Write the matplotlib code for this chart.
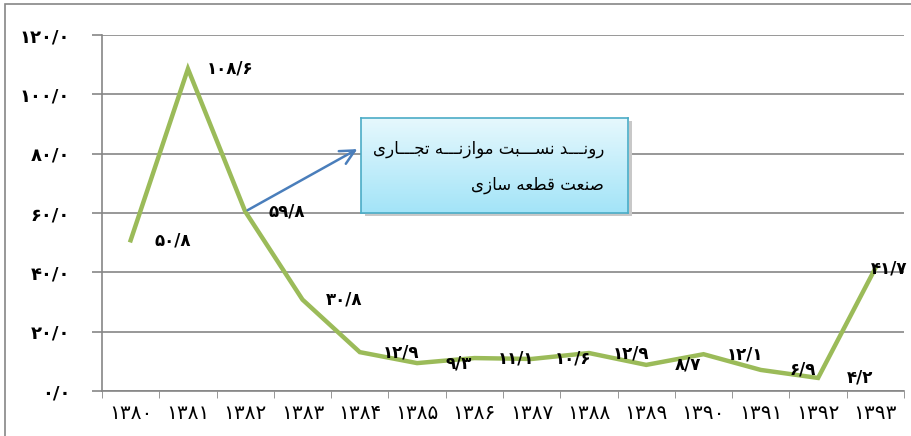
import matplotlib.pyplot as plt
import matplotlib.patches as mpatches
import numpy as np

plt.rcParams['font.family'] = ['DejaVu Sans']

years = ['1380', '1381', '1382', '1383', '1384', '1385', '1386',
         '1387', '1388', '1389', '1390', '1391', '1392', '1393']
# plotted values (line)
values = [50.8, 108.6, 60.5, 30.8, 13.1, 9.4, 11.1, 10.8, 12.8, 8.8, 12.4, 7.1, 4.4, 41.4]
# printed data labels
label_values = [50.8, 108.6, 59.8, 30.8, 12.9, 9.3, 11.1, 10.6, 12.9, 8.7, 12.1, 6.9, 4.2, 41.7]
y_ticks = [0, 20, 40, 60, 80, 100, 120]
box_lines = ['رونـــد نســـبت موازنـــه تجـــاری', 'صنعت قطعه سازی']

PERSIAN_DIGITS = str.maketrans('0123456789.', '۰۱۲۳۴۵۶۷۸۹/')

# isolated, final, initial, medial
FORMS = {
    'ا': ('\uFE8D', '\uFE8E', None, None),
    'ب': ('\uFE8F', '\uFE90', '\uFE91', '\uFE92'),
    'ت': ('\uFE95', '\uFE96', '\uFE97', '\uFE98'),
    'ج': ('\uFE9D', '\uFE9E', '\uFE9F', '\uFEA0'),
    'د': ('\uFEA9', '\uFEAA', None, None),
    'ر': ('\uFEAD', '\uFEAE', None, None),
    'ز': ('\uFEAF', '\uFEB0', None, None),
    'س': ('\uFEB1', '\uFEB2', '\uFEB3', '\uFEB4'),
    'ص': ('\uFEB9', '\uFEBA', '\uFEBB', '\uFEBC'),
    'ط': ('\uFEC1', '\uFEC2', '\uFEC3', '\uFEC4'),
    'ع': ('\uFEC9', '\uFECA', '\uFECB', '\uFECC'),
    'ق': ('\uFED5', '\uFED6', '\uFED7', '\uFED8'),
    'م': ('\uFEE1', '\uFEE2', '\uFEE3', '\uFEE4'),
    'ن': ('\uFEE5', '\uFEE6', '\uFEE7', '\uFEE8'),
    'ه': ('\uFEE9', '\uFEEA', '\uFEEB', '\uFEEC'),
    'و': ('\uFEED', '\uFEEE', None, None),
    'ی': ('\uFEEF', '\uFEF0', '\uFEF3', '\uFEF4'),
}
TATWEEL = 'ـ'


def _dual(ch):
    return ch == TATWEEL or (ch in FORMS and FORMS[ch][2] is not None)


def _joins(ch):
    return ch == TATWEEL or ch in FORMS


def shape(text):
    # matplotlib has no arabic shaping: pick presentation forms, then reverse
    out = []
    for i, ch in enumerate(text):
        if ch not in FORMS:
            out.append(ch)
            continue
        prev = text[i - 1] if i > 0 else ''
        nxt = text[i + 1] if i + 1 < len(text) else ''
        jp = prev != '' and _dual(prev)
        jn = nxt != '' and _joins(nxt) and _dual(ch)
        iso, fin, ini, med = FORMS[ch]
        if jp and jn:
            out.append(med)
        elif jp:
            out.append(fin)
        elif jn:
            out.append(ini)
        else:
            out.append(iso)
    return ''.join(out)[::-1]


def fa(num, fmt):
    return (fmt % num).translate(PERSIAN_DIGITS)


fig = plt.figure(figsize=(9.12, 4.36), dpi=100)
fig.patches.append(mpatches.Rectangle((5 / 912, -0.05), 1.2, 1 - 4 / 436 + 0.05, transform=fig.transFigure,
                                      fill=False, edgecolor='#868686', linewidth=1.2))
ax = fig.add_axes([102 / 912, 1 - 391 / 436, 802 / 912, 356 / 436])

x = np.arange(len(years))
ax.plot(x, values, color='#9bbb59', linewidth=3.2, solid_joinstyle='miter', zorder=3)

for i, v in enumerate(label_values):
    dx = 30 if i < len(years) - 1 else 10
    ax.annotate(fa(v, '%.1f'), (x[i], values[i]), xytext=(dx, 0), textcoords='offset points',
                ha='center', va='center', fontsize=12, fontweight='bold', zorder=4)

ax.set_xlim(-0.5, len(years) - 0.5)
ax.set_ylim(0, 120)
ax.set_yticks(y_ticks)
ax.set_yticklabels([fa(t, '%.1f') for t in y_ticks], fontsize=13, fontweight='bold')
ax.set_xticks(x)
ax.set_xticklabels([y.translate(PERSIAN_DIGITS) for y in years], fontsize=14.5)
ax.set_xticks(np.arange(-0.5, len(years)), minor=True)
ax.tick_params(axis='x', which='major', length=0, pad=9)
ax.tick_params(axis='x', which='minor', length=5, color='#868686', direction='out')
ax.tick_params(axis='y', length=7, color='#868686', width=1.2, pad=16)
ax.grid(axis='y', color='#868686', linewidth=1.2)
ax.set_axisbelow(True)
for side in ['top', 'right']:
    ax.spines[side].set_visible(False)
for side in ['left', 'bottom']:
    ax.spines[side].set_color('#868686')
    ax.spines[side].set_linewidth(1.2)

# arrow to the callout
ax.annotate('', xy=(4.0, 82.0), xytext=(x[2], values[2]),
            arrowprops=dict(arrowstyle='->', color='#4a7ebb', linewidth=1.8, mutation_scale=26), zorder=4)

# callout box with shadow and gradient
bx0, by0, bw, bh = 361 / 912, 1 - 213 / 436, 267 / 912, 95 / 436
shadow = mpatches.Rectangle((bx0 + 0.004, by0 - 0.008), bw, bh, transform=fig.transFigure,
                            facecolor='#c8c8c8', edgecolor='none', zorder=5)
fig.patches.append(shadow)
grad_ax = fig.add_axes([bx0, by0, bw, bh], zorder=6)
grad = np.linspace(0, 1, 100).reshape(-1, 1)
top = np.array([0xe6, 0xf8, 0xfd]) / 255
bottom = np.array([0xa3, 0xe4, 0xf8]) / 255
img = top[None, None, :] * (1 - grad[:, :, None]) + bottom[None, None, :] * grad[:, :, None]
grad_ax.imshow(img, aspect='auto', extent=(0, 1, 0, 1))
grad_ax.set_xticks([])
grad_ax.set_yticks([])
for s in grad_ax.spines.values():
    s.set_color('#4bacc6')
    s.set_linewidth(1.2)
grad_ax.text(0.91, 0.67, shape(box_lines[0]), ha='right', va='center', fontsize=12)
grad_ax.text(0.91, 0.30, shape(box_lines[1]), ha='right', va='center', fontsize=12)

fig.savefig('out.png', dpi=100)
